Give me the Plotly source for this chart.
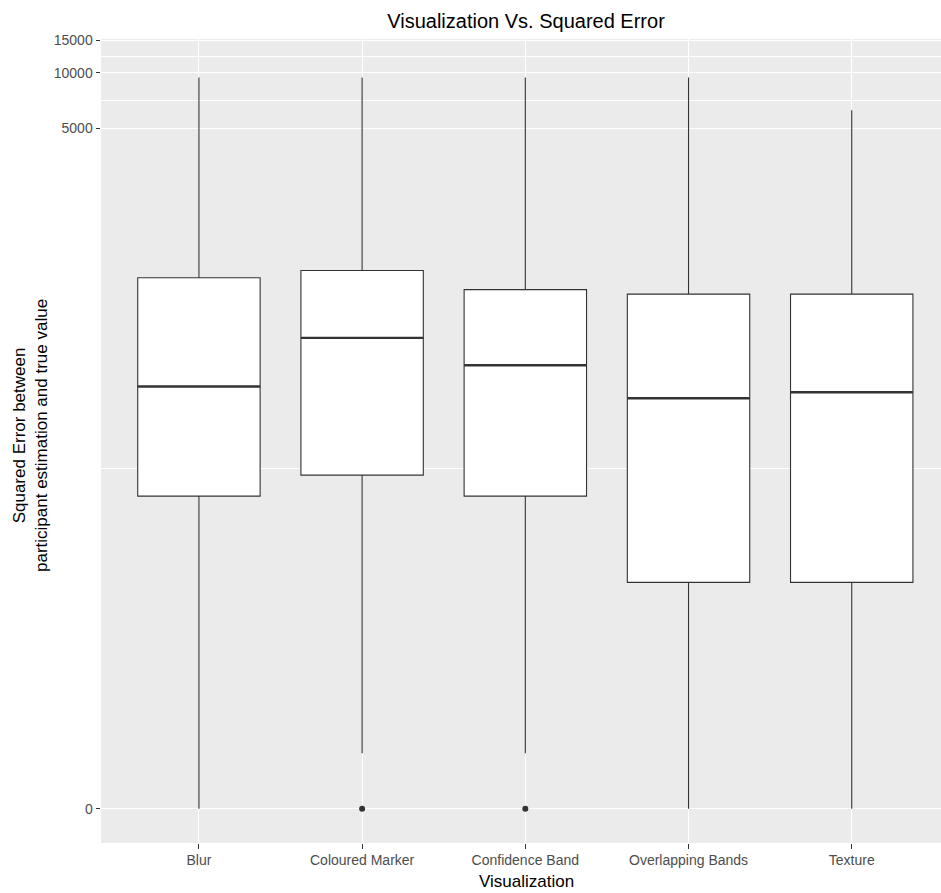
import numpy as np
import plotly.graph_objects as go

# Summary statistics of squared error per visualization type
categories = ["Blur", "Coloured Marker", "Confidence Band", "Overlapping Bands", "Texture"]
lower_whisker = [0, 1, 1, 0, 0]
q1 = [49, 64, 49, 16, 16]
median = [196, 361, 256, 169, 182.5]
q3 = [768, 841, 661, 625, 625]
upper_whisker = [9409, 9409, 9409, 9409, 6241]

# Outlying observations (category index, value)
outlier_cat = [1, 2]
outlier_val = [0, 0]

# Axis break labels
y_breaks = [0, 5000, 10000, 15000]


def tr(v):
    """log10(x + 1) transform used for the y scale."""
    return np.log10(np.asarray(v, dtype=float) + 1)


pos = list(range(len(categories)))
box_w = 0.75
dark = "#333333"

fig = go.Figure()

fig.add_trace(go.Box(
    x=pos,
    q1=tr(q1), median=tr(median), q3=tr(q3),
    lowerfence=tr(lower_whisker), upperfence=tr(upper_whisker),
    width=box_w,
    whiskerwidth=0,
    fillcolor="white",
    line=dict(color=dark, width=1.1),
    boxpoints=False,
    hoverinfo="skip",
    showlegend=False,
))

# heavier median bars
for i, m in enumerate(median):
    fig.add_trace(go.Scatter(
        x=[pos[i] - box_w / 2, pos[i] + box_w / 2],
        y=[tr(m), tr(m)],
        mode="lines",
        line=dict(color=dark, width=2.4),
        hoverinfo="skip",
        showlegend=False,
    ))

fig.add_trace(go.Scatter(
    x=outlier_cat, y=tr(outlier_val),
    mode="markers",
    marker=dict(color=dark, size=6),
    hoverinfo="skip",
    showlegend=False,
))

major = tr(y_breaks)
minor = (major[:-1] + major[1:]) / 2

font_family = "Liberation Sans, Arial, sans-serif"

fig.update_layout(
    width=941, height=893,
    margin=dict(l=101, r=0, t=39, b=50),
    paper_bgcolor="white",
    plot_bgcolor="#EBEBEB",
    font=dict(family=font_family, color="#4D4D4D", size=14),
    title=dict(
        text="Visualization Vs. Squared Error",
        font=dict(size=20, color="black", family=font_family),
        xref="paper", x=0.506, xanchor="center",
        yref="container", y=1 - 21 / 893, yanchor="middle",
    ),
    xaxis=dict(
        range=[-0.6, 4.547],
        tickmode="array", tickvals=pos, ticktext=categories,
        showgrid=True, gridcolor="white", gridwidth=1.1,
        zeroline=False,
        ticks="outside", ticklen=4.5, tickwidth=1.1, tickcolor=dark,
        tickfont=dict(size=14, color="#4D4D4D"),
        showline=False,
    ),
    yaxis=dict(
        range=[-0.186, 4.183],
        tickmode="array", tickvals=major, ticktext=[str(b) for b in y_breaks],
        showgrid=True, gridcolor="white", gridwidth=1.1,
        minor=dict(tickvals=minor, showgrid=True, gridcolor="white",
                   gridwidth=0.55, ticklen=0),
        zeroline=False,
        ticks="outside", ticklen=4.5, tickwidth=1.1, tickcolor=dark,
        tickfont=dict(size=14, color="#4D4D4D"),
        showline=False,
    ),
    annotations=[
        dict(
            text="Visualization",
            xref="paper", x=0.506, xanchor="center",
            yref="paper", y=-(881 - 843) / 804, yanchor="middle",
            showarrow=False,
            font=dict(size=17, color="black", family=font_family),
        ),
        dict(
            text="Squared Error between<br>participant estimation and true value",
            textangle=-90,
            xref="paper", x=(30 - 101) / 840, xanchor="center",
            yref="paper", y=(843 - 436) / 804, yanchor="middle",
            showarrow=False,
            font=dict(size=17, color="black", family=font_family),
        ),
    ],
)

fig.write_html("out.html")
